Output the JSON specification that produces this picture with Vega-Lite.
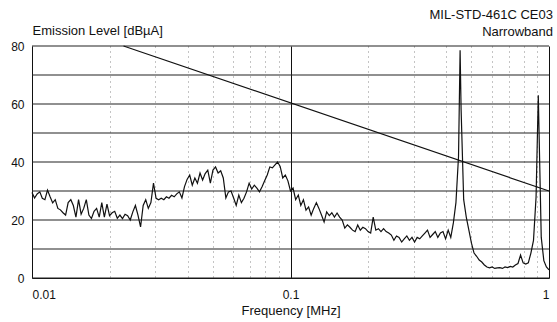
{
  "$schema": "https://vega.github.io/schema/vega-lite/v6.json",
  "width": 517,
  "height": 232,
  "autosize": {"type": "none"},
  "padding": {"left": 32, "top": 46, "right": 8, "bottom": 44},
  "background": "white",
  "config": {"view": {"stroke": null}, "font": "Liberation Sans"},
  "title": {
    "text": ["MIL-STD-461C CE03", "Narrowband"],
    "anchor": "end",
    "frame": "group",
    "fontSize": 13,
    "fontWeight": "normal",
    "font": "Liberation Sans",
    "color": "#111",
    "lineHeight": 17,
    "offset": -15,
    "dx": 4
  },
  "datasets": {
    "levels": [{"v": 0}, {"v": 10}, {"v": 20}, {"v": 30}, {"v": 40}, {"v": 50}, {"v": 60}, {"v": 70}, {"v": 80}],
    "trace": [
      {"f": 0.01, "v": 29.5}, {"f": 0.01023, "v": 27.6}, {"f": 0.01047, "v": 29}, {"f": 0.01072, "v": 29.7},
      {"f": 0.01096, "v": 27.5}, {"f": 0.01122, "v": 27}, {"f": 0.01148, "v": 30.3}, {"f": 0.01175, "v": 28},
      {"f": 0.01202, "v": 25.9}, {"f": 0.0123, "v": 27}, {"f": 0.01259, "v": 24}, {"f": 0.01288, "v": 23.5},
      {"f": 0.01318, "v": 22.5}, {"f": 0.01349, "v": 21.7}, {"f": 0.0138, "v": 26}, {"f": 0.01413, "v": 27},
      {"f": 0.01445, "v": 25}, {"f": 0.01479, "v": 21}, {"f": 0.01514, "v": 27}, {"f": 0.01549, "v": 22},
      {"f": 0.01585, "v": 24}, {"f": 0.01622, "v": 27}, {"f": 0.0166, "v": 21.7}, {"f": 0.01698, "v": 20.5},
      {"f": 0.01738, "v": 23}, {"f": 0.01778, "v": 24}, {"f": 0.0182, "v": 21}, {"f": 0.01862, "v": 26},
      {"f": 0.01905, "v": 21}, {"f": 0.0195, "v": 25.5}, {"f": 0.01995, "v": 21.5}, {"f": 0.02042, "v": 22.5},
      {"f": 0.02089, "v": 23}, {"f": 0.02138, "v": 20.6}, {"f": 0.02188, "v": 21.7}, {"f": 0.02239, "v": 20.5},
      {"f": 0.02291, "v": 22}, {"f": 0.02344, "v": 21.5}, {"f": 0.02399, "v": 20}, {"f": 0.02455, "v": 22.8},
      {"f": 0.02512, "v": 25}, {"f": 0.0257, "v": 21.7}, {"f": 0.0263, "v": 17.6}, {"f": 0.02692, "v": 25},
      {"f": 0.02754, "v": 27}, {"f": 0.02818, "v": 24}, {"f": 0.02884, "v": 26}, {"f": 0.02951, "v": 32.7},
      {"f": 0.0302, "v": 27.5}, {"f": 0.0309, "v": 27}, {"f": 0.03162, "v": 27.5}, {"f": 0.03236, "v": 27},
      {"f": 0.03311, "v": 28}, {"f": 0.03388, "v": 27.5}, {"f": 0.03467, "v": 28.5}, {"f": 0.03548, "v": 28},
      {"f": 0.03631, "v": 29}, {"f": 0.03715, "v": 29.7}, {"f": 0.03802, "v": 27.6}, {"f": 0.0389, "v": 31.5},
      {"f": 0.03981, "v": 34}, {"f": 0.04074, "v": 35.5}, {"f": 0.04169, "v": 32}, {"f": 0.04266, "v": 34.5},
      {"f": 0.04365, "v": 32.7}, {"f": 0.04467, "v": 36.2}, {"f": 0.04571, "v": 33.8}, {"f": 0.04677, "v": 36},
      {"f": 0.04786, "v": 37.2}, {"f": 0.04898, "v": 32.7}, {"f": 0.05012, "v": 37.2}, {"f": 0.05129, "v": 38.3},
      {"f": 0.05248, "v": 36.2}, {"f": 0.0537, "v": 37}, {"f": 0.05495, "v": 34.5}, {"f": 0.05623, "v": 27.6},
      {"f": 0.05754, "v": 29.7}, {"f": 0.05888, "v": 30}, {"f": 0.06026, "v": 27.6}, {"f": 0.06166, "v": 25},
      {"f": 0.0631, "v": 28.6}, {"f": 0.06457, "v": 26}, {"f": 0.06607, "v": 27.5}, {"f": 0.06761, "v": 29.7},
      {"f": 0.06918, "v": 32.7}, {"f": 0.07079, "v": 30.7}, {"f": 0.07244, "v": 32}, {"f": 0.07413, "v": 31},
      {"f": 0.07586, "v": 29.7}, {"f": 0.07762, "v": 31.5}, {"f": 0.07943, "v": 33.5}, {"f": 0.08128, "v": 35.5},
      {"f": 0.08318, "v": 38.3}, {"f": 0.08511, "v": 38}, {"f": 0.0871, "v": 39}, {"f": 0.08913, "v": 40},
      {"f": 0.0912, "v": 38.5}, {"f": 0.09333, "v": 34.5}, {"f": 0.0955, "v": 35.5}, {"f": 0.09772, "v": 33.5},
      {"f": 0.1, "v": 30}, {"f": 0.1023, "v": 31}, {"f": 0.1047, "v": 27}, {"f": 0.1072, "v": 28.6},
      {"f": 0.1096, "v": 25}, {"f": 0.1122, "v": 27}, {"f": 0.1148, "v": 23.4}, {"f": 0.1175, "v": 24.5},
      {"f": 0.1202, "v": 21.7}, {"f": 0.123, "v": 24}, {"f": 0.1259, "v": 26}, {"f": 0.1288, "v": 24},
      {"f": 0.1318, "v": 21.7}, {"f": 0.1349, "v": 19.3}, {"f": 0.138, "v": 22.8}, {"f": 0.1413, "v": 21.5},
      {"f": 0.1445, "v": 22.5}, {"f": 0.1479, "v": 21}, {"f": 0.1514, "v": 22.4}, {"f": 0.1549, "v": 21},
      {"f": 0.1585, "v": 20}, {"f": 0.1622, "v": 17.2}, {"f": 0.166, "v": 18.3}, {"f": 0.1698, "v": 17.5},
      {"f": 0.1738, "v": 16.5}, {"f": 0.1778, "v": 16}, {"f": 0.182, "v": 18.3}, {"f": 0.1862, "v": 16.5},
      {"f": 0.1905, "v": 17.5}, {"f": 0.195, "v": 17}, {"f": 0.1995, "v": 16}, {"f": 0.2042, "v": 15.5},
      {"f": 0.2089, "v": 21}, {"f": 0.2138, "v": 16.5}, {"f": 0.2188, "v": 17}, {"f": 0.2239, "v": 16},
      {"f": 0.2291, "v": 17}, {"f": 0.2344, "v": 16}, {"f": 0.2399, "v": 15.5}, {"f": 0.2455, "v": 14.8},
      {"f": 0.2512, "v": 13}, {"f": 0.257, "v": 14.5}, {"f": 0.263, "v": 14}, {"f": 0.2692, "v": 12.4},
      {"f": 0.2754, "v": 13.5}, {"f": 0.2818, "v": 14.5}, {"f": 0.2884, "v": 13}, {"f": 0.2951, "v": 14},
      {"f": 0.302, "v": 12.4}, {"f": 0.309, "v": 14}, {"f": 0.3162, "v": 13.5}, {"f": 0.3236, "v": 14.5},
      {"f": 0.3311, "v": 15.5}, {"f": 0.3388, "v": 16.5}, {"f": 0.3467, "v": 14}, {"f": 0.3548, "v": 15},
      {"f": 0.3631, "v": 16}, {"f": 0.3715, "v": 14}, {"f": 0.3802, "v": 15.5}, {"f": 0.389, "v": 16},
      {"f": 0.3981, "v": 13.5}, {"f": 0.4074, "v": 16.5}, {"f": 0.4169, "v": 14}, {"f": 0.4266, "v": 19},
      {"f": 0.4365, "v": 26}, {"f": 0.4467, "v": 42}, {"f": 0.453, "v": 78.5}, {"f": 0.4571, "v": 58},
      {"f": 0.4677, "v": 27}, {"f": 0.4786, "v": 21}, {"f": 0.4898, "v": 16.5}, {"f": 0.5012, "v": 12},
      {"f": 0.5129, "v": 8.6}, {"f": 0.5248, "v": 7.5}, {"f": 0.537, "v": 6.2}, {"f": 0.5495, "v": 5.5},
      {"f": 0.5623, "v": 4.5}, {"f": 0.5754, "v": 3.8}, {"f": 0.5888, "v": 3.5}, {"f": 0.6026, "v": 3.8},
      {"f": 0.6166, "v": 3.3}, {"f": 0.631, "v": 3.5}, {"f": 0.6457, "v": 3.6}, {"f": 0.6607, "v": 3.3},
      {"f": 0.6761, "v": 3.8}, {"f": 0.6918, "v": 3.6}, {"f": 0.7079, "v": 4}, {"f": 0.7244, "v": 3.8},
      {"f": 0.7413, "v": 4.5}, {"f": 0.7586, "v": 5}, {"f": 0.7762, "v": 7.9}, {"f": 0.7943, "v": 5.2},
      {"f": 0.8128, "v": 4.8}, {"f": 0.8318, "v": 5.2}, {"f": 0.8511, "v": 8.6}, {"f": 0.871, "v": 13},
      {"f": 0.8913, "v": 28}, {"f": 0.909, "v": 63}, {"f": 0.9333, "v": 14}, {"f": 0.955, "v": 6},
      {"f": 0.9772, "v": 3.8}, {"f": 1, "v": 2.8}
    ],
    "limit": [{"f": 0.0226, "v": 80}, {"f": 1, "v": 30}]
  },
  "layer": [
    {
      "data": {"name": "levels"},
      "mark": {"type": "rule", "color": "#222", "strokeWidth": 1.2},
      "encoding": {
        "y": {
          "field": "v",
          "type": "quantitative",
          "scale": {"domain": [0, 80], "nice": false},
          "axis": {
            "values": [0, 20, 40, 60, 80],
            "grid": false,
            "ticks": false,
            "domain": true,
            "domainColor": "#111",
            "labelPadding": 8,
            "labelFontSize": 12,
            "labelColor": "#111",
            "labelFont": "Liberation Sans",
            "title": "Emission Level [dBµA]",
            "titleFont": "Liberation Sans",
            "titleFontSize": 13,
            "titleFontWeight": "normal",
            "titleColor": "#111",
            "titleAngle": 0,
            "titleAlign": "left",
            "titleBaseline": "alphabetic",
            "titleX": 0,
            "titleY": -12
          }
        }
      }
    },
    {
      "data": {"name": "trace"},
      "mark": {"type": "line", "color": "#111", "strokeWidth": 1.2},
      "encoding": {
        "x": {
          "field": "f",
          "type": "quantitative",
          "scale": {"type": "log", "domain": [0.01, 1], "nice": false},
          "axis": {
            "values": [0.01, 0.02, 0.03, 0.04, 0.05, 0.06, 0.07, 0.08, 0.09, 0.1, 0.2, 0.3, 0.4, 0.5, 0.6, 0.7, 0.8, 0.9, 1],
            "grid": true,
            "gridColor": {"condition": {"test": "datum.value == 0.1 || datum.value == 1", "value": "#111"}, "value": "#888"},
            "gridDash": {"condition": {"test": "datum.value == 0.1 || datum.value == 1", "value": []}, "value": [1, 4]},
            "gridWidth": 1,
            "ticks": false,
            "domain": true,
            "domainColor": "#111",
            "labelExpr": "datum.value == 0.01 || datum.value == 0.1 || datum.value == 1 ? format(datum.value, '~g') : ''",
            "labelFlush": true,
            "labelOverlap": false,
            "labelPadding": 11,
            "labelFontSize": 12,
            "labelColor": "#111",
            "labelFont": "Liberation Sans",
            "title": "Frequency [MHz]",
            "titleFont": "Liberation Sans",
            "titleFontSize": 13,
            "titleFontWeight": "normal",
            "titleColor": "#111",
            "titlePadding": 4
          }
        },
        "y": {"field": "v", "type": "quantitative"}
      }
    },
    {
      "data": {"name": "limit"},
      "mark": {"type": "line", "color": "#111", "strokeWidth": 1.2},
      "encoding": {
        "x": {"field": "f", "type": "quantitative"},
        "y": {"field": "v", "type": "quantitative"}
      }
    }
  ]
}
